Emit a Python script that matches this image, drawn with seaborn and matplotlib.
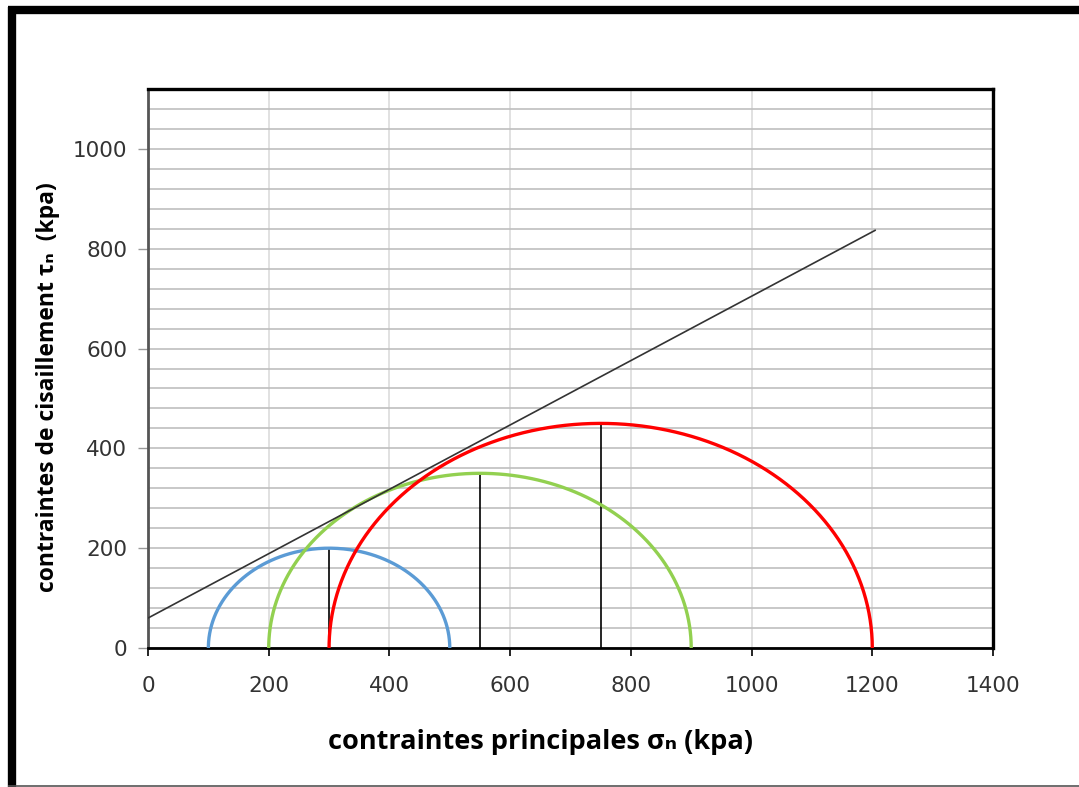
import numpy as np
import pandas as pd
import matplotlib
matplotlib.use("Agg")
import matplotlib.pyplot as plt
from matplotlib.lines import Line2D
from matplotlib.ticker import MultipleLocator
import seaborn as sns

# Mohr circles: minor / major principal stresses (kPa)
sigma3 = [100, 200, 300]
sigma1 = [500, 900, 1200]
circle_colors = ["#5B9BD5", "#92D050", "#FF0000"]

# Failure envelope (Mohr-Coulomb line)
envelope_sigma = [0, 1205]
envelope_tau = [60, 837]

x_ticks = [0, 200, 400, 600, 800, 1000, 1200, 1400]
y_ticks = [0, 200, 400, 600, 800, 1000]

sns.set_style("white")
plt.rcParams["font.family"] = ["DejaVu Sans"]

fig = plt.figure(figsize=(10.79, 7.87), dpi=100)
ax = fig.add_axes([148 / 1079, 1 - 648 / 787, 845 / 1079, 559 / 787])

# semicircles
theta = np.linspace(0, np.pi, 300)
for s3, s1, col in zip(sigma3, sigma1, circle_colors):
    c = (s1 + s3) / 2
    r = (s1 - s3) / 2
    df = pd.DataFrame({"sigma": c + r * np.cos(theta), "tau": r * np.sin(theta)})
    sns.lineplot(data=df, x="sigma", y="tau", sort=False, color=col, lw=2.4, ax=ax, zorder=4)
    ax.plot([c, c], [0, r], color="black", lw=1.2, zorder=3)

env = pd.DataFrame({"sigma": envelope_sigma, "tau": envelope_tau})
sns.lineplot(data=env, x="sigma", y="tau", color="#333333", lw=1.2, ax=ax, zorder=5)

ax.set_xlim(0, 1400)
ax.set_ylim(0, 1120)
ax.set_xticks(x_ticks)
ax.set_yticks(y_ticks)
ax.yaxis.set_minor_locator(MultipleLocator(40))

ax.grid(False)
ax.grid(axis="y", which="both", color="#BFBFBF", lw=1.2, zorder=0)
ax.grid(axis="x", which="major", color="#D9D9D9", lw=1.1, zorder=0)
ax.set_axisbelow(True)

ax.tick_params(axis="x", which="major", direction="out", length=6, width=1.2,
               color="black", pad=14, labelsize=15.5, labelcolor="#333333", bottom=True)
ax.tick_params(axis="y", which="major", direction="out", length=7, width=1.0,
               color="#999999", pad=8, labelsize=15.5, labelcolor="#333333", left=True)
ax.tick_params(axis="y", which="minor", length=0)

for side in ["top", "right"]:
    ax.spines[side].set_color("black")
    ax.spines[side].set_linewidth(2.4)
ax.spines["bottom"].set_color("black")
ax.spines["bottom"].set_linewidth(2.0)
ax.spines["left"].set_color("#555555")
ax.spines["left"].set_linewidth(2.0)

label_font = dict(family=["Open Sans", "DejaVu Sans"], fontweight="bold", color="black")
ax.set_xlabel("contraintes principales σₙ (kpa)", va="center", fontsize=19.5, **label_font)
ax.xaxis.set_label_coords((540 - 148) / 845, (648 - 742) / 559)
ax.set_ylabel("contraintes de cisaillement τₙ  (kpa)", va="center", fontsize=16.5, **label_font)
ax.yaxis.set_label_coords((48 - 148) / 845, (648 - 387) / 559)

# outer frame
fig.add_artist(Line2D([8 / 1079, 1], [1 - 10 / 787, 1 - 10 / 787], color="black", lw=6,
                      solid_capstyle="butt"))
fig.add_artist(Line2D([11.5 / 1079, 11.5 / 1079], [0, 1 - 7 / 787], color="black", lw=6,
                      solid_capstyle="butt"))
fig.add_artist(Line2D([8 / 1079, 1], [1.5 / 787, 1.5 / 787], color="#555555", lw=1.2,
                      solid_capstyle="butt"))

fig.savefig("out.png", dpi=100)
